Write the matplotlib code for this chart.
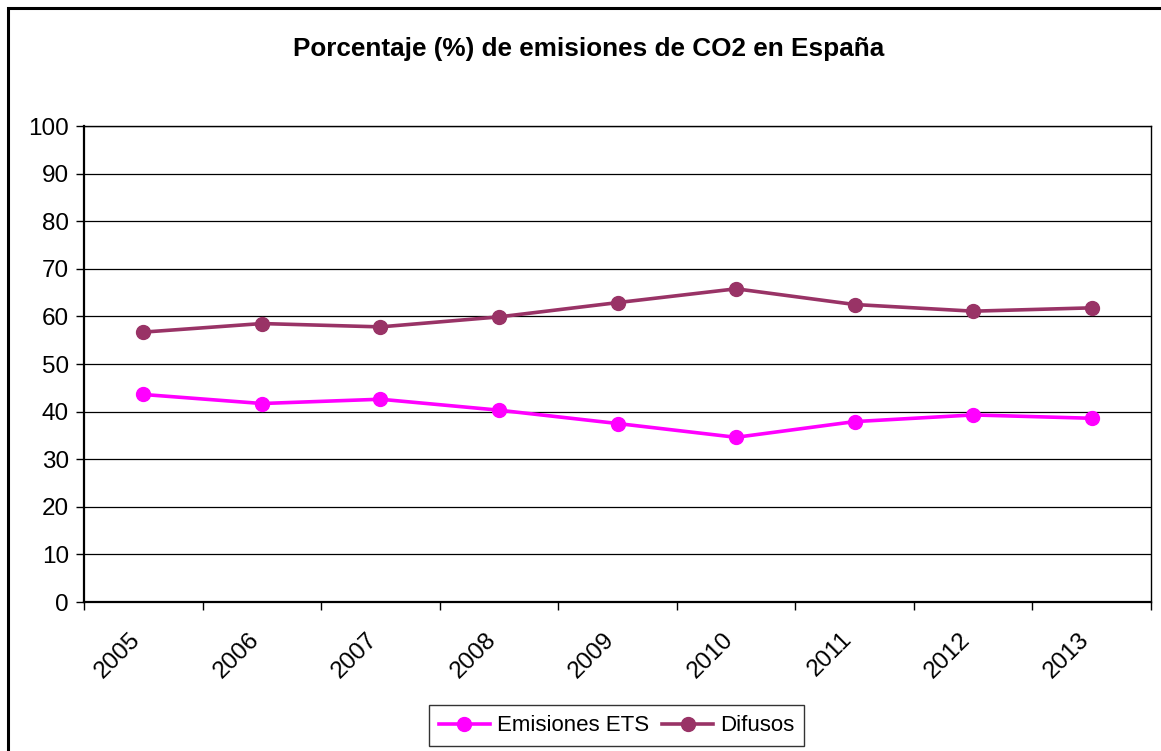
import matplotlib.pyplot as plt
from matplotlib.patches import Rectangle
from matplotlib.ticker import FixedLocator
from matplotlib.transforms import ScaledTranslation

plt.rcParams['font.family'] = ['Liberation Sans', 'DejaVu Sans']

years = ['2005', '2006', '2007', '2008', '2009', '2010', '2011', '2012', '2013']
ets = [43.6, 41.7, 42.6, 40.3, 37.5, 34.6, 37.9, 39.3, 38.6]
difusos = [56.7, 58.5, 57.8, 59.9, 62.9, 65.8, 62.5, 61.1, 61.8]

fig = plt.figure(figsize=(11.61, 7.51), dpi=100)
ax = fig.add_axes([0.0724, 0.1984, 0.9190, 0.6338])

x = list(range(len(years)))
ax.plot(x, ets, color='#FF00FF', lw=2.6, marker='o', ms=10, label='Emisiones ETS')
ax.plot(x, difusos, color='#993366', lw=2.6, marker='o', ms=10, label='Difusos')

ax.set_xlim(-0.5, len(years) - 0.5)
ax.set_ylim(0, 100)
ax.set_yticks(range(0, 101, 10))
ax.yaxis.grid(True, color='black', lw=0.9)
ax.set_axisbelow(True)

# labels in the middle of each category, tick marks on the boundaries
ax.set_xticks(x)
ax.set_xticklabels(years, rotation=45, ha='right', rotation_mode='anchor')
ax.xaxis.set_minor_locator(FixedLocator([i - 0.5 for i in range(len(years) + 1)]))
ax.tick_params(axis='x', which='major', length=0, pad=19, labelsize=17.5)
ax.tick_params(axis='x', which='minor', length=6, width=1, direction='out')
ax.tick_params(axis='y', length=6, width=1, labelsize=17.5, pad=5)
shift = ScaledTranslation(-0.14, 0, fig.dpi_scale_trans)
for lab in ax.get_xticklabels():
    lab.set_transform(lab.get_transform() + shift)

for s in ['left', 'bottom']:
    ax.spines[s].set_linewidth(1.6)
for s in ['top', 'right']:
    ax.spines[s].set_linewidth(1.0)

fig.text(0.507, 0.935, 'Porcentaje (%) de emisiones de CO2 en España',
         ha='center', va='center', fontsize=18.8, fontweight='bold')

leg = fig.legend(loc='center', bbox_to_anchor=(0.531, 0.0335), ncol=2, fontsize=16,
                 frameon=True, fancybox=False, edgecolor='black', handlelength=2.3,
                 handletextpad=0.3, columnspacing=0.6, borderpad=0.45)
leg.get_frame().set_linewidth(1.0)

# outer chart border
fig.patches.append(Rectangle((8 / 1161, -0.05), 1.1, 0.05 + (751 - 8) / 751,
                             transform=fig.transFigure, fill=False,
                             edgecolor='black', lw=2.2, clip_on=False))

fig.savefig('out.png', dpi=100)
